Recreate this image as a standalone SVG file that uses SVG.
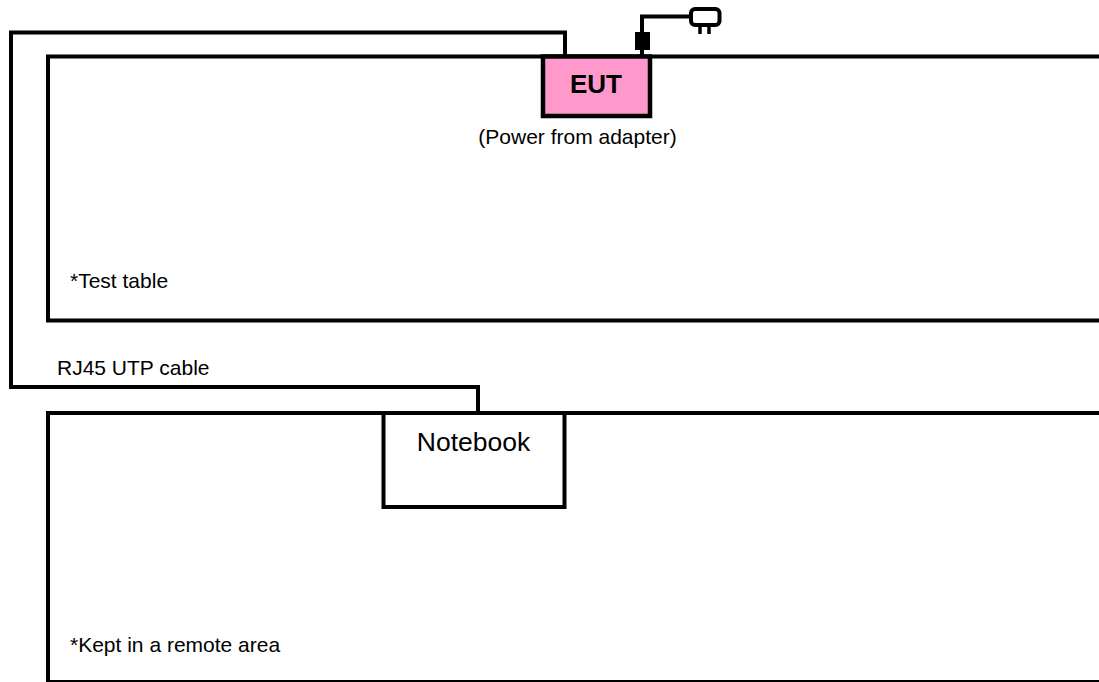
<svg xmlns="http://www.w3.org/2000/svg" width="1099" height="682" viewBox="0 0 1099 682">
<style>
.l{fill:none;stroke:#000;stroke-width:4;stroke-linejoin:miter}
.t{font-family:"Liberation Sans",Arial,sans-serif;fill:#000;font-size:21px}
</style>
<rect width="1099" height="682" fill="#fff"/>
<g id="test-table"><path class="l" d="M1099 56.500H48V320.500H1099"/><text class="t" x="70" y="288">*Test table</text></g>
<g id="remote-area"><path class="l" d="M1099 413H48V682"/><path d="M46 681H1099" stroke="#000" stroke-width="2" fill="none"/><text class="t" x="70" y="652">*Kept in a remote area</text></g>
<g id="connectors">
<path class="l" d="M565 56V32.500H11V387H478V413"/>
<path class="l" d="M642 56V16.500H691"/>
<rect x="635" y="32" width="15" height="18" fill="#000"/>
</g>
<g id="eut"><rect x="543" y="56.500" width="107" height="59.500" fill="#ff99cc" stroke="#000" stroke-width="4.500"/><text x="596" y="93" text-anchor="middle" font-family="Liberation Sans, Arial, sans-serif" font-weight="700" font-size="26">EUT</text></g>
<g id="adapter"><rect x="691" y="9" width="28.500" height="16" rx="4" class="l" fill="#fff"/><path fill="none" stroke="#000" stroke-width="3.500" d="M700 26V34M709 26V34"/></g>
<g id="notebook"><rect x="383.500" y="413" width="181" height="94" fill="#fff" stroke="#000" stroke-width="4"/><text x="473.500" y="451" text-anchor="middle" font-family="Liberation Sans, Arial, sans-serif" font-size="26.500">Notebook</text></g>
<text class="t" x="577.500" y="144" text-anchor="middle">(Power from adapter)</text>
<text class="t" x="57" y="375">RJ45 UTP cable</text>
</svg>
